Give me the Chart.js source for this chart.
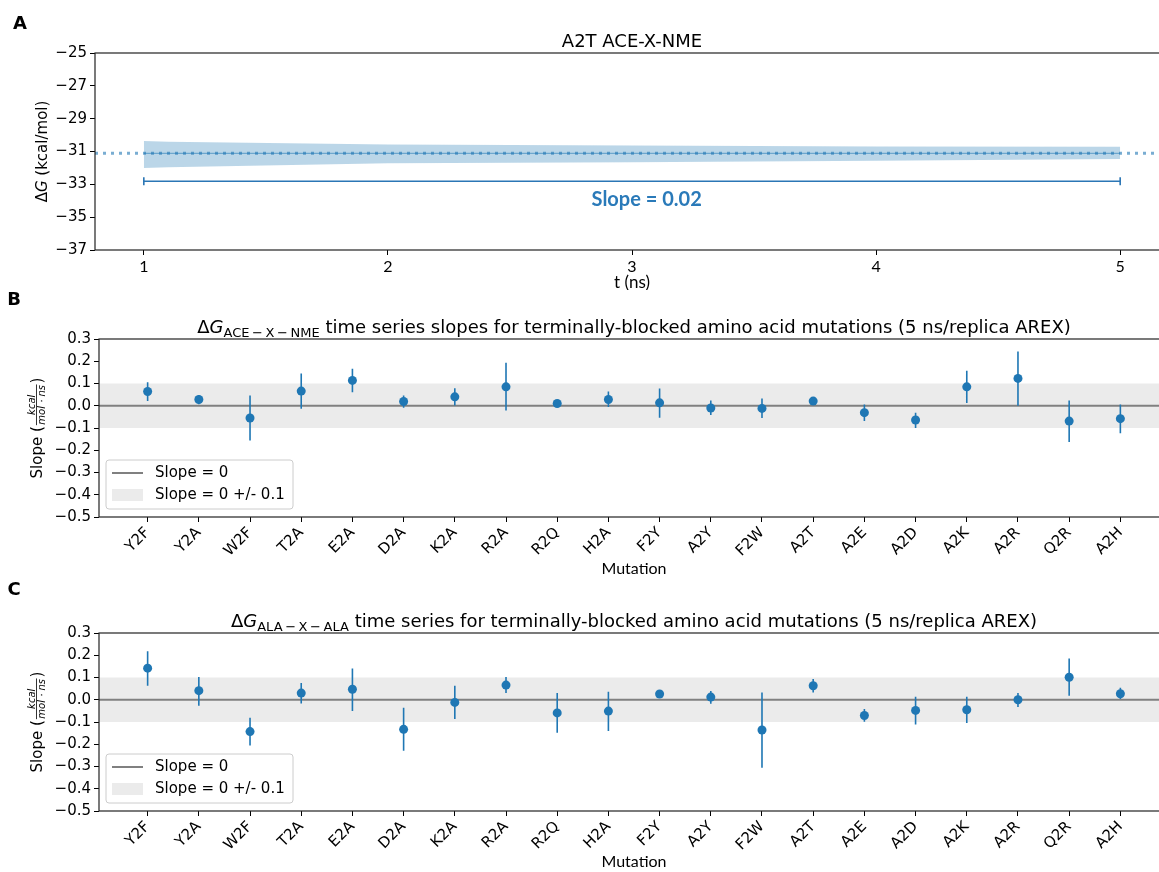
<!DOCTYPE html>
<html>
<head>
<meta charset="utf-8">
<script src="https://cdn.jsdelivr.net/npm/chart.js@4.4.0/dist/chart.umd.min.js"></script>
<style>
  html, body { margin: 0; padding: 0; width: 1159px; height: 872px; overflow: hidden; background: #fff; }
  canvas { position: absolute; left: 0; }
</style>
</head>
<body>
<canvas id="chartA" width="1180" height="290" style="top:0px"></canvas>
<canvas id="chartB" width="1180" height="290" style="top:290px"></canvas>
<canvas id="chartC" width="1180" height="292" style="top:580px"></canvas>
<script>
// ========================
// DATA
// ========================
// panel A : A2T ACE-X-NME free energy vs time
const tA = [1, 1.1, 2, 3, 4, 5];
const upperA = [-30.36, -30.40, -30.57, -30.63, -30.69, -30.71];
const lowerA = [-32.00, -31.96, -31.72, -31.66, -31.56, -31.46];
const meanA = -31.11;
const slopeBarA = -32.81;
const slopeLabelA = "Slope = 0.02";
const slopeLabelPosA = [3.06, -33.95];
const xLimA = [0.8, 5.2];
const xTicksA = [1, 2, 3, 4, 5];
const yLimA = [-37, -25];

// panels B and C : slopes per mutation
const mutations = ["Y2F", "Y2A", "W2F", "T2A", "E2A", "D2A", "K2A", "R2A", "R2Q", "H2A",
                   "F2Y", "A2Y", "F2W", "A2T", "A2E", "A2D", "A2K", "A2R", "Q2R", "A2H"];

const aceSlope = [0.064, 0.028, -0.055, 0.066, 0.114, 0.019, 0.040, 0.085, 0.010, 0.028,
                  0.013, -0.010, -0.012, 0.021, -0.031, -0.064, 0.085, 0.123, -0.069, -0.058];
const aceHi    = [0.106, 0.048, 0.046, 0.145, 0.166, 0.046, 0.079, 0.193, 0.021, 0.064,
                  0.078, 0.024, 0.033, 0.026, 0.006, -0.031, 0.157, 0.244, 0.024, 0.006];
const aceLo    = [0.021, 0.007, -0.156, -0.013, 0.061, -0.009, 0.001, -0.021, -0.006, -0.006,
                  -0.054, -0.042, -0.055, 0.016, -0.069, -0.100, 0.012, 0.000, -0.163, -0.124];

const alaSlope = [0.142, 0.041, -0.143, 0.030, 0.047, -0.133, -0.012, 0.066, -0.059, -0.051,
                  0.026, 0.012, -0.136, 0.063, -0.071, -0.048, -0.045, 0.000, 0.101, 0.027];
const alaHi    = [0.218, 0.102, -0.081, 0.075, 0.140, -0.036, 0.063, 0.102, 0.030, 0.036,
                  0.036, 0.039, 0.033, 0.093, -0.042, 0.014, 0.014, 0.030, 0.185, 0.054];
const alaLo    = [0.063, -0.027, -0.206, -0.017, -0.050, -0.229, -0.086, 0.030, -0.148, -0.140,
                  0.012, -0.018, -0.306, 0.033, -0.099, -0.111, -0.104, -0.033, 0.018, 0.003];

const yLimSlope = [-0.5, 0.3];
const xLimSlope = [-0.95, 19.95];
const bandHalf = 0.1;
const legendLabels = ["Slope = 0", "Slope = 0 +/- 0.1"];

// ========================
// STYLE
// ========================
const BLUE = "#1f77b4";
const F = "DejaVu Sans";
const F2 = "Lato";
const TICK = 15, TITLE = 18;

// texte composé (indices, italiques)
function drawRich(ctx, parts, x, y, align) {
    let w = 0;
    parts.forEach(p => { ctx.font = p[1]; w += ctx.measureText(p[0]).width; });
    let cx = align === "center" ? x - w / 2 : x;
    ctx.textAlign = "left";
    parts.forEach(p => {
        ctx.font = p[1];
        ctx.fillText(p[0], cx, y + (p[2] || 0));
        cx += ctx.measureText(p[0]).width;
    });
}

function drawFrame(ctx, ca) {
    ctx.save();
    ctx.strokeStyle = "#222";
    ctx.lineWidth = 1.2;
    ctx.strokeRect(ca.left, ca.top, ca.right - ca.left, ca.bottom - ca.top);
    ctx.restore();
}

function minusFmt(v, digits) {
    if (Math.abs(v) < 1e-9) v = 0;
    return (digits != null ? v.toFixed(digits) : String(v)).replace("-", "\u2212");
}

// =====================================================
// PANEL A
// =====================================================
const panelAPlugin = {
    id: "panelA",
    afterDatasetsDraw(chart) {
        const { ctx, scales: { x, y } } = chart;
        const yb = y.getPixelForValue(slopeBarA);
        const x1 = x.getPixelForValue(tA[0]);
        const x2 = x.getPixelForValue(tA[tA.length - 1]);
        ctx.save();
        ctx.strokeStyle = "#2b76b5";
        ctx.lineWidth = 1.6;
        ctx.beginPath();
        ctx.moveTo(x1, yb); ctx.lineTo(x2, yb);
        ctx.moveTo(x1, yb - 4); ctx.lineTo(x1, yb + 4);
        ctx.moveTo(x2, yb - 4); ctx.lineTo(x2, yb + 4);
        ctx.stroke();

        ctx.fillStyle = "#2a7ab9";
        ctx.font = "bold 20px " + F2;
        ctx.textAlign = "center";
        ctx.textBaseline = "middle";
        ctx.fillText(slopeLabelA, x.getPixelForValue(slopeLabelPosA[0]), y.getPixelForValue(slopeLabelPosA[1]));
        ctx.restore();
    },
    afterDraw(chart) {
        const { ctx, chartArea: ca } = chart;
        drawFrame(ctx, ca);
        ctx.save();
        ctx.fillStyle = "#000";
        ctx.textBaseline = "alphabetic";
        // titre
        drawRich(ctx, [["A2T ACE-X-NME", TITLE + "px " + F]], (ca.left + ca.right) / 2, ca.top - 6, "center");
        // axe x
        ctx.font = "17px " + F2;
        ctx.textAlign = "center";
        ctx.textBaseline = "middle";
        ctx.fillText("t (ns)", (ca.left + ca.right) / 2, ca.bottom + 33);
        // lettre de panneau
        ctx.font = "bold 18px " + F;
        ctx.fillText("A", 20, 24);
        // axe y
        ctx.translate(43, (ca.top + ca.bottom) / 2);
        ctx.rotate(-Math.PI / 2);
        ctx.textBaseline = "middle";
        drawRich(ctx, [["\u0394", TICK + "px " + F], ["G", "italic " + TICK + "px " + F], [" (kcal/mol)", TICK + "px " + F]], 0, 0, "center");
        ctx.restore();
    }
};

new Chart(document.getElementById("chartA"), {
    type: "line",
    data: {
        datasets: [
            { // ligne pointillée horizontale
                data: xLimA.map(t => ({ x: t, y: meanA })),
                borderColor: "rgba(31,119,180,0.6)", borderWidth: 3, borderDash: [3, 5],
                pointRadius: 0, fill: false
            },
            { // moyenne
                data: [tA[0], tA[tA.length - 1]].map(t => ({ x: t, y: meanA })),
                borderColor: "rgba(31,119,180,0.5)", borderWidth: 1.2,
                pointRadius: 0, fill: false
            },
            { // bande haute
                data: tA.map((t, i) => ({ x: t, y: upperA[i] })),
                borderColor: "rgba(0,0,0,0)", borderWidth: 0, pointRadius: 0,
                backgroundColor: "rgba(31,119,180,0.3)", fill: "+1"
            },
            { // bande basse
                data: tA.map((t, i) => ({ x: t, y: lowerA[i] })),
                borderColor: "rgba(0,0,0,0)", borderWidth: 0, pointRadius: 0, fill: false
            }
        ]
    },
    options: {
        responsive: false,
        animation: false,
        layout: { padding: { top: 53, right: 11, left: 0, bottom: 0 } },
        plugins: { legend: { display: false }, tooltip: { enabled: false } },
        scales: {
            x: {
                type: "linear", min: xLimA[0], max: xLimA[1],
                afterBuildTicks: s => { s.ticks = xTicksA.map(v => ({ value: v })); },
                afterFit: s => { s.height = 40; },
                border: { display: false },
                grid: { drawOnChartArea: false, drawTicks: true, tickLength: 5, color: "#000" },
                ticks: { color: "#000", font: { family: F2, size: 16 }, padding: 2, callback: v => String(v) }
            },
            y: {
                min: yLimA[0], max: yLimA[1],
                afterFit: s => { s.width = 95; },
                border: { display: false },
                grid: { drawOnChartArea: false, drawTicks: true, tickLength: 5, color: "#000" },
                ticks: { stepSize: 2, color: "#000", font: { family: F, size: TICK }, padding: 3, callback: v => minusFmt(v) }
            }
        }
    },
    plugins: [panelAPlugin]
});

// =====================================================
// PANELS B et C
// =====================================================
function slopePlugin(id, letter, titleParts, slope, hi, lo, xTitleOffset) {
    return {
        id: id,
        beforeDatasetsDraw(chart) {
            const { ctx, chartArea: ca, scales: { x, y } } = chart;
            ctx.save();
            // bande +/- 0.1
            const yt = y.getPixelForValue(bandHalf), ybm = y.getPixelForValue(-bandHalf);
            ctx.fillStyle = "#ebebeb";
            ctx.fillRect(ca.left, yt, ca.right - ca.left, ybm - yt);
            // ligne zéro
            ctx.strokeStyle = "#808080";
            ctx.lineWidth = 2;
            ctx.beginPath();
            ctx.moveTo(ca.left, y.getPixelForValue(0));
            ctx.lineTo(ca.right, y.getPixelForValue(0));
            ctx.stroke();
            // barres d'erreur
            ctx.strokeStyle = BLUE;
            ctx.lineWidth = 1.6;
            ctx.beginPath();
            mutations.forEach((m, i) => {
                const px = x.getPixelForValue(i);
                ctx.moveTo(px, y.getPixelForValue(hi[i]));
                ctx.lineTo(px, y.getPixelForValue(lo[i]));
            });
            ctx.stroke();
            ctx.restore();
        },
        afterDatasetsDraw(chart) {
            const { ctx, chartArea: ca } = chart;
            // légende
            const lx = ca.left + 7, lw = 187, lh = 49, ly = ca.bottom - 8 - lh;
            ctx.save();
            ctx.beginPath();
            ctx.roundRect(lx, ly, lw, lh, 3);
            ctx.fillStyle = "rgba(255,255,255,0.8)";
            ctx.fill();
            ctx.strokeStyle = "#cccccc";
            ctx.lineWidth = 1;
            ctx.stroke();

            ctx.strokeStyle = "#808080";
            ctx.lineWidth = 2;
            ctx.beginPath();
            ctx.moveTo(lx + 6, ly + 13); ctx.lineTo(lx + 37, ly + 13);
            ctx.stroke();
            ctx.fillStyle = "#ebebeb";
            ctx.fillRect(lx + 6, ly + 29, 31, 12);

            ctx.fillStyle = "#000";
            ctx.font = TICK + "px " + F;
            ctx.textAlign = "left";
            ctx.textBaseline = "middle";
            ctx.fillText(legendLabels[0], lx + 49, ly + 13);
            ctx.fillText(legendLabels[1], lx + 49, ly + 35);
            ctx.restore();
        },
        afterDraw(chart) {
            const { ctx, chartArea: ca } = chart;
            drawFrame(ctx, ca);
            ctx.save();
            ctx.fillStyle = "#000";
            ctx.textBaseline = "alphabetic";
            drawRich(ctx, titleParts, (ca.left + ca.right) / 2, ca.top - 6, "center");

            ctx.font = "16px " + F2;
            ctx.textAlign = "center";
            ctx.textBaseline = "middle";
            ctx.fillText("Mutation", (ca.left + ca.right) / 2, ca.bottom + xTitleOffset);

            ctx.font = "bold 18px " + F;
            ctx.fillText(letter, 14, 10);

            // axe y : Slope (kcal / mol·ns)
            ctx.translate(38, (ca.top + ca.bottom) / 2);
            ctx.rotate(-Math.PI / 2);
            const fMain = TICK + "px " + F, fFrac = "italic 10px " + F;
            ctx.font = fMain;
            const w1 = ctx.measureText("Slope (").width;
            const w3 = ctx.measureText(")").width;
            ctx.font = fFrac;
            const wn = ctx.measureText("kcal").width, wd = ctx.measureText("mol \u00b7 ns").width;
            const fw = Math.max(wn, wd) + 3;
            const x0 = -(w1 + fw + w3) / 2;
            ctx.textAlign = "left";
            ctx.textBaseline = "middle";
            ctx.font = fMain;
            ctx.fillText("Slope (", x0, 0);
            ctx.fillText(")", x0 + w1 + fw, 0);
            const fc = x0 + w1 + fw / 2;
            ctx.lineWidth = 0.8;
            ctx.strokeStyle = "#000";
            ctx.beginPath();
            ctx.moveTo(x0 + w1 + 1, -1.5); ctx.lineTo(x0 + w1 + fw - 1, -1.5);
            ctx.stroke();
            ctx.font = fFrac;
            ctx.textAlign = "center";
            ctx.textBaseline = "alphabetic";
            ctx.fillText("kcal", fc, -3.5);
            ctx.fillText("mol \u00b7 ns", fc, 7);
            ctx.restore();
        }
    };
}

function makeSlopeChart(canvasId, padTop, xHeight, plugin, slope) {
    return new Chart(document.getElementById(canvasId), {
        type: "scatter",
        data: {
            datasets: [{
                data: mutations.map((m, i) => ({ x: i, y: slope[i] })),
                backgroundColor: BLUE, borderWidth: 0, pointRadius: 4.5
            }]
        },
        options: {
            responsive: false,
            animation: false,
            layout: { padding: { top: padTop, right: 11, left: 0, bottom: 0 } },
            plugins: { legend: { display: false }, tooltip: { enabled: false } },
            scales: {
                x: {
                    type: "linear", min: xLimSlope[0], max: xLimSlope[1],
                    afterBuildTicks: s => { s.ticks = mutations.map((m, i) => ({ value: i })); },
                    afterFit: s => { s.height = xHeight; },
                    border: { display: false },
                    grid: { drawOnChartArea: false, drawTicks: true, tickLength: 5, color: "#000" },
                    ticks: {
                        color: "#000", font: { family: F, size: TICK }, padding: 2,
                        autoSkip: false, minRotation: 45, maxRotation: 45,
                        callback: v => mutations[Math.round(v)]
                    }
                },
                y: {
                    min: yLimSlope[0], max: yLimSlope[1],
                    afterFit: s => { s.width = 99; },
                    border: { display: false },
                    grid: { drawOnChartArea: false, drawTicks: true, tickLength: 5, color: "#000" },
                    ticks: { stepSize: 0.1, color: "#000", font: { family: F, size: TICK }, padding: 3, callback: v => minusFmt(v, 1) }
                }
            }
        },
        plugins: [plugin]
    });
}

const SUB = "\u2009\u2212\u2009";
const titleB = [
    ["\u0394", TITLE + "px " + F], ["G", "italic " + TITLE + "px " + F],
    ["ACE" + SUB + "X" + SUB + "NME", "13px " + F, 4],
    [" time series slopes for terminally-blocked amino acid mutations (5 ns/replica AREX)", TITLE + "px " + F]
];
const titleC = [
    ["\u0394", TITLE + "px " + F], ["G", "italic " + TITLE + "px " + F],
    ["ALA" + SUB + "X" + SUB + "ALA", "13px " + F, 4],
    [" time series for terminally-blocked amino acid mutations (5 ns/replica AREX)", TITLE + "px " + F]
];

makeSlopeChart("chartB", 49, 63, slopePlugin("panelB", "B", titleB, aceSlope, aceHi, aceLo, 52), aceSlope);
makeSlopeChart("chartC", 53, 61, slopePlugin("panelC", "C", titleC, alaSlope, alaHi, alaLo, 51), alaSlope);
</script>
</body>
</html>
